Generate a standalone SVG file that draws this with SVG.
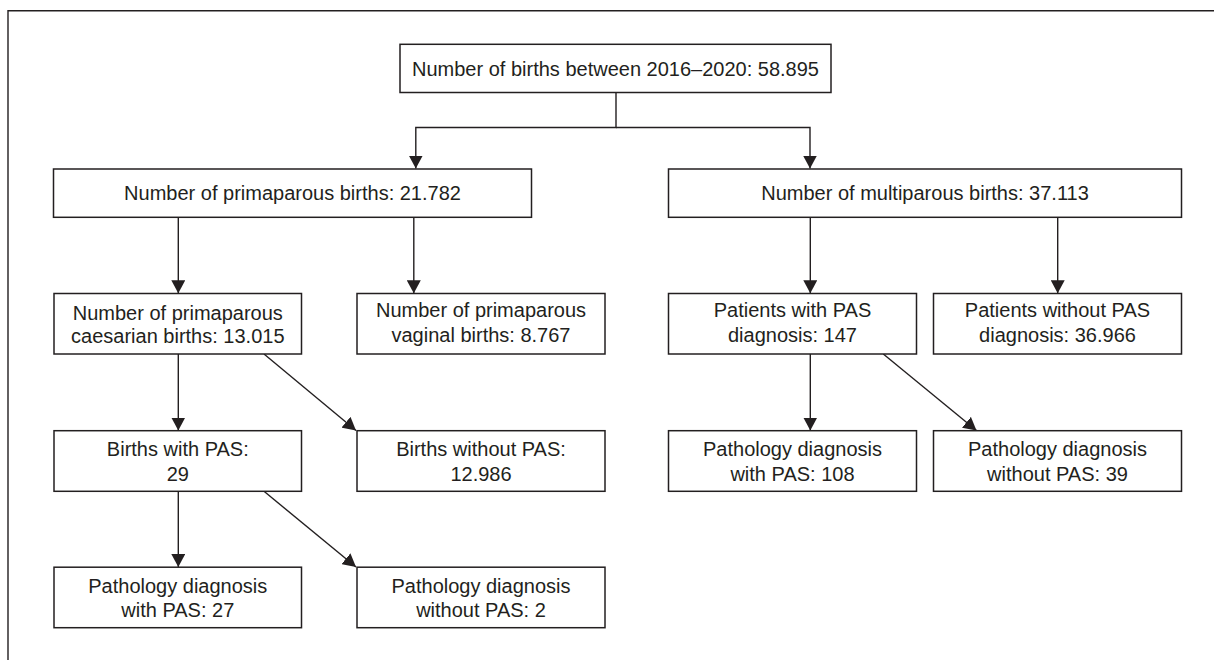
<svg xmlns="http://www.w3.org/2000/svg" width="1214" height="660" viewBox="0 0 1214 660">
<defs>
<style>
.box{fill:#fff;stroke:#231f20;stroke-width:1.5}
.lbl{font-family:"Liberation Sans",Arial,sans-serif;font-size:20px;fill:#231f20;text-anchor:middle}
.con{fill:none;stroke:#231f20;stroke-width:1.4}
.arr{marker-end:url(#ah)}
.frame{fill:none;stroke:#231f20;stroke-width:1.4}
</style>
<marker id="ah" markerUnits="userSpaceOnUse" markerWidth="13" markerHeight="14" viewBox="0 0 13 14" refX="13" refY="7" orient="auto">
<path d="M0,0 L13,7 L0,14 Z" fill="#231f20"/>
</marker>
</defs>
<rect width="1214" height="660" fill="#fff"/>
<path class="frame" d="M8,660 V10.7 H1214"/>

<g id="connectors">
<path class="con arr" d="M616,92.5 V127.5 H415.8 V168.5"/>
<path class="con arr" d="M616,127.5 H810 V168.5"/>
<path class="con arr" d="M178.3,217.5 V293.3"/>
<path class="con arr" d="M413.8,217.5 V293.3"/>
<path class="con arr" d="M810.3,217.5 V293.3"/>
<path class="con arr" d="M1057.7,217.5 V293.3"/>
<path class="con arr" d="M178.3,354 V430.5"/>
<path class="con arr" d="M264,354 L356,430.5"/>
<path class="con arr" d="M178.3,491.3 V567"/>
<path class="con arr" d="M264,491.3 L356,567"/>
<path class="con arr" d="M810.3,354 V430.5"/>
<path class="con arr" d="M883.3,354 L976.5,430.5"/>
</g>

<g id="n-total">
<rect class="box" x="400" y="44.3" width="431" height="48.2"/>
<text class="lbl" x="615.5" y="75.5">Number of births between 2016–2020: 58.895</text>
</g>
<g id="n-primaparous">
<rect class="box" x="53.5" y="169" width="478" height="48.3"/>
<text class="lbl" x="292.5" y="199.5">Number of primaparous births: 21.782</text>
</g>
<g id="n-multiparous">
<rect class="box" x="668.5" y="169" width="513" height="48.3"/>
<text class="lbl" x="925" y="199.5">Number of multiparous births: 37.113</text>
</g>
<g id="n-caesarian">
<rect class="box" x="54" y="293.5" width="247.5" height="60.5"/>
<text class="lbl" x="177.8" y="320">Number of primaparous</text>
<text class="lbl" x="177.8" y="343.3">caesarian births: 13.015</text>
</g>
<g id="n-vaginal">
<rect class="box" x="357" y="293.5" width="248" height="60.5"/>
<text class="lbl" x="481" y="317.3">Number of primaparous</text>
<text class="lbl" x="481" y="341.7">vaginal births: 8.767</text>
</g>
<g id="n-patients-pas">
<rect class="box" x="668.5" y="293.5" width="248" height="60.5"/>
<text class="lbl" x="792.5" y="317.3">Patients with PAS</text>
<text class="lbl" x="792.5" y="342">diagnosis: 147</text>
</g>
<g id="n-patients-nopas">
<rect class="box" x="933.5" y="293.5" width="248" height="60.5"/>
<text class="lbl" x="1057.5" y="317.3">Patients without PAS</text>
<text class="lbl" x="1057.5" y="342">diagnosis: 36.966</text>
</g>
<g id="n-births-pas">
<rect class="box" x="54" y="430.7" width="247.5" height="60.6"/>
<text class="lbl" x="177.8" y="456">Births with PAS:</text>
<text class="lbl" x="177.8" y="480.5">29</text>
</g>
<g id="n-births-nopas">
<rect class="box" x="357" y="430.7" width="248" height="60.6"/>
<text class="lbl" x="481" y="456">Births without PAS:</text>
<text class="lbl" x="481" y="480.5">12.986</text>
</g>
<g id="n-path-pas-108">
<rect class="box" x="668.5" y="430.7" width="248" height="60.6"/>
<text class="lbl" x="792.5" y="456">Pathology diagnosis</text>
<text class="lbl" x="792.5" y="480.5">with PAS: 108</text>
</g>
<g id="n-path-nopas-39">
<rect class="box" x="933.5" y="430.7" width="248" height="60.6"/>
<text class="lbl" x="1057.5" y="456">Pathology diagnosis</text>
<text class="lbl" x="1057.5" y="480.5">without PAS: 39</text>
</g>
<g id="n-path-pas-27">
<rect class="box" x="54" y="567.2" width="247.5" height="60.5"/>
<text class="lbl" x="177.8" y="593.3">Pathology diagnosis</text>
<text class="lbl" x="177.8" y="616.7">with PAS: 27</text>
</g>
<g id="n-path-nopas-2">
<rect class="box" x="357" y="567.2" width="248" height="60.5"/>
<text class="lbl" x="481" y="593.3">Pathology diagnosis</text>
<text class="lbl" x="481" y="616.7">without PAS: 2</text>
</g>
</svg>
